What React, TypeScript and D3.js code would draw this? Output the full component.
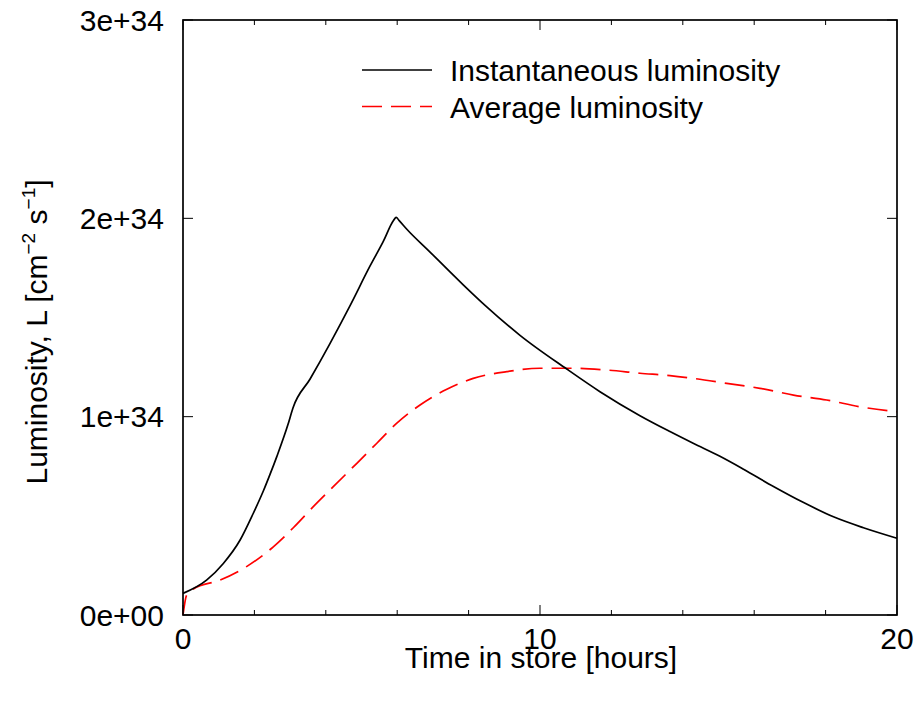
import React from "react";
import * as d3 from "d3";

const instT = [0, 0.66, 1.13, 1.6, 1.97, 2.25, 2.44, 2.63, 2.94, 3.08, 3.56, 4.12, 4.68, 5.24, 5.6, 5.9, 5.97, 6.05, 6.27, 6.92, 7.48, 7.85, 8.5, 9.44, 10.75, 11.68, 12.8, 13.64, 14.29, 15.04, 15.7, 16.54, 17.37, 18.22, 19.06, 20];
const instL = [0.109, 0.176, 0.26, 0.378, 0.513, 0.625, 0.71, 0.8, 0.96, 1.044, 1.19, 1.37, 1.56, 1.76, 1.88, 1.99, 2.005, 1.99, 1.945, 1.83, 1.73, 1.665, 1.555, 1.41, 1.24, 1.126, 1.005, 0.925, 0.866, 0.8, 0.735, 0.648, 0.568, 0.495, 0.44, 0.387];

const avgT = [0, 0.1, 0.29, 1.04, 1.78, 2.53, 3.09, 3.65, 4.21, 4.87, 5.43, 5.99, 6.64, 7.39, 8.13, 9.07, 10.0, 10.93, 11.87, 12.8, 13.64, 14.29, 15.23, 16.16, 17.1, 18.03, 18.96, 20];
const avgL = [0, 0.1, 0.131, 0.176, 0.244, 0.344, 0.44, 0.546, 0.647, 0.765, 0.866, 0.967, 1.059, 1.138, 1.193, 1.227, 1.244, 1.244, 1.235, 1.219, 1.207, 1.193, 1.168, 1.143, 1.109, 1.084, 1.05, 1.025];

const xMajor = [0, 10, 20];
const xMinor = [2, 4, 6, 8, 12, 14, 16, 18];
const yMajor = [0, 1, 2, 3];
const yTickLabels = ["0e+00", "1e+34", "2e+34", "3e+34"];
const seriesNames = ["Instantaneous luminosity", "Average luminosity"];

const W = 918, H = 702;
const M = { left: 183, right: 897, top: 20, bottom: 615 };
const FONT = "'Liberation Sans', Arial, Helvetica, sans-serif";
const FS = 30;

export default function App() {
  const x = d3.scaleLinear().domain([0, 20]).range([M.left, M.right]);
  const y = d3.scaleLinear().domain([0, 3]).range([M.bottom, M.top]);
  const line = d3.line<[number, number]>().x(d => x(d[0])).y(d => y(d[1])).curve(d3.curveMonotoneX);
  const inst = line(instT.map((t, i) => [t, instL[i]] as [number, number]));
  const avg = line(avgT.map((t, i) => [t, avgL[i]] as [number, number]));
  const tickCol = "#000";
  return (
    <svg width={W} height={H} style={{ position: "absolute", left: 0, top: 0, background: "#fff" }} fontFamily={FONT}>
      <rect x={0} y={0} width={W} height={H} fill="#fff" />
      {xMinor.map(v => (
        <g key={"xm" + v}>
          <line x1={x(v)} x2={x(v)} y1={M.bottom} y2={M.bottom - 5} stroke={tickCol} strokeWidth={1} />
          <line x1={x(v)} x2={x(v)} y1={M.top} y2={M.top + 5} stroke={tickCol} strokeWidth={1} />
        </g>
      ))}
      {xMajor.map(v => (
        <g key={"xM" + v}>
          <line x1={x(v)} x2={x(v)} y1={M.bottom} y2={M.bottom - 10} stroke={tickCol} strokeWidth={1} />
          <line x1={x(v)} x2={x(v)} y1={M.top} y2={M.top + 10} stroke={tickCol} strokeWidth={1} />
          <text x={x(v)} y={M.bottom + 34} textAnchor="middle" fontSize={FS} fill="#000">{v}</text>
        </g>
      ))}
      {yMajor.map((v, i) => (
        <g key={"yM" + v}>
          <line x1={M.left} x2={M.left + 10} y1={y(v)} y2={y(v)} stroke={tickCol} strokeWidth={1} />
          <line x1={M.right} x2={M.right - 10} y1={y(v)} y2={y(v)} stroke={tickCol} strokeWidth={1} />
          <text x={M.left - 19} y={y(v) + 10.5} textAnchor="end" fontSize={FS} fill="#000">{yTickLabels[i]}</text>
        </g>
      ))}
      <path d={avg || ""} fill="none" stroke="#ff0000" strokeWidth={1.7} strokeDasharray="20,9" />
      <path d={inst || ""} fill="none" stroke="#000" strokeWidth={1.7} />
      <rect x={M.left} y={M.top} width={M.right - M.left} height={M.bottom - M.top} fill="none" stroke="#000" strokeWidth={1.7} />
      <line x1={362} x2={432} y1={70} y2={70} stroke="#000" strokeWidth={1.7} />
      <text x={450} y={81} fontSize={FS} fill="#000">{seriesNames[0]}</text>
      <line x1={362} x2={432} y1={106.5} y2={106.5} stroke="#ff0000" strokeWidth={1.7} strokeDasharray="20,9" />
      <text x={450} y={117.5} fontSize={FS} fill="#000">{seriesNames[1]}</text>
      <text x={541} y={668} textAnchor="middle" fontSize={FS} fill="#000">Time in store [hours]</text>
      <text transform="translate(47,332) rotate(-90)" textAnchor="middle" fontSize={FS} fill="#000">
        Luminosity, L [cm
        <tspan dy={-12} fontSize={19}>−2</tspan>
        <tspan dy={12}> s</tspan>
        <tspan dy={-12} fontSize={19}>−1</tspan>
        <tspan dy={12}>]</tspan>
      </text>
    </svg>
  );
}
